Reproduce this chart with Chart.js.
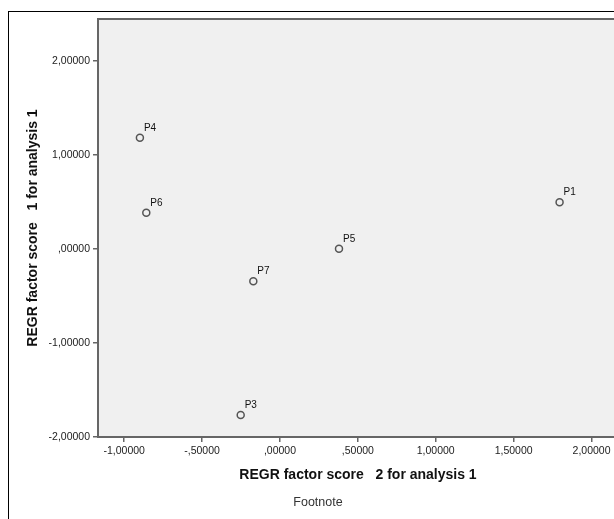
<!DOCTYPE html>
<html lang="en">
<head>
    <meta charset="UTF-8">
    <title>REGR factor scores</title>
    <script src="https://cdn.jsdelivr.net/npm/chart.js"></script>
    <style>
        html, body { margin: 0; padding: 0; background: #fff; overflow: hidden; }
        .wrap { width: 640px; height: 519px; position: relative; }
    </style>
</head>
<body>
    <div class="wrap"><canvas id="myChart"></canvas></div>

    <script>
        // factor scores per case
        const caseLabels = ['P1', 'P3', 'P4', 'P5', 'P6', 'P7'];
        const score2 = [1.795, -0.252, -0.899, 0.379, -0.858, -0.171];
        const score1 = [0.497, -1.766, 1.184, 0.003, 0.386, -0.344];

        const xTicks = [-1, -0.5, 0, 0.5, 1, 1.5, 2];
        const yTicks = [-2, -1, 0, 1, 2];

        // SPSS-like number format: comma decimal, no leading zero
        const fmt = (v) => {
            let s = Math.abs(v).toFixed(5).replace('.', ',');
            if (s.startsWith('0')) s = s.slice(1);
            return (v < 0 ? '-' : '') + s;
        };

        const pointLabels = {
            id: 'pointLabels',
            afterDatasetsDraw(chart) {
                const ctx = chart.ctx;
                const meta = chart.getDatasetMeta(0);
                ctx.save();
                ctx.font = '10px Arial, "Liberation Sans"';
                ctx.fillStyle = '#111';
                ctx.textBaseline = 'alphabetic';
                meta.data.forEach((el, i) => {
                    ctx.fillText(caseLabels[i], el.x + 4, el.y - 7);
                });
                ctx.restore();
            }
        };

        const frame = {
            id: 'frame',
            beforeDraw(chart) {
                const {ctx, chartArea: a} = chart;
                ctx.save();
                // outer border
                ctx.strokeStyle = '#000';
                ctx.lineWidth = 1;
                ctx.strokeRect(8.5, 11.5, 700, 600);
                // plot background
                ctx.fillStyle = '#f0f0f0';
                ctx.fillRect(a.left, a.top, a.right - a.left, a.bottom - a.top);
                ctx.restore();
            },
            afterDraw(chart) {
                const {ctx, chartArea: a} = chart;
                ctx.save();
                ctx.strokeStyle = '#666';
                ctx.lineWidth = 2;
                ctx.strokeRect(a.left, a.top, a.right - a.left, a.bottom - a.top);
                ctx.font = '12.5px Arial, "Liberation Sans"';
                ctx.fillStyle = '#333';
                ctx.textAlign = 'center';
                ctx.textBaseline = 'middle';
                ctx.fillText('Footnote', 318, 503);
                ctx.restore();
            }
        };

        const ctx = document.getElementById('myChart').getContext('2d');
        new Chart(ctx, {
            type: 'scatter',
            data: {
                datasets: [{
                    data: score2.map((x, i) => ({x: x, y: score1[i]})),
                    pointRadius: 3.5,
                    pointHoverRadius: 3.5,
                    pointBorderWidth: 1.5,
                    borderColor: '#555',
                    backgroundColor: 'rgba(0,0,0,0)'
                }]
            },
            options: {
                responsive: true,
                maintainAspectRatio: false,
                animation: false,
                layout: { padding: { left: 25, top: 19, right: 22, bottom: 35 } },
                plugins: { legend: { display: false }, tooltip: { enabled: false } },
                scales: {
                    x: {
                        type: 'linear',
                        min: -1.168,
                        max: 2.17,
                        afterBuildTicks: (s) => { s.ticks = xTicks.map(v => ({value: v})); },
                        afterFit: (s) => { s.height = 47; },
                        grid: { drawOnChartArea: false, drawTicks: true, tickLength: 5, color: '#666', lineWidth: 1.5 },
                        border: { display: false },
                        ticks: {
                            padding: 3,
                            maxRotation: 0,
                            color: '#222',
                            font: { family: 'Arial, "Liberation Sans"', size: 10.5 },
                            callback: (v) => fmt(v)
                        },
                        title: {
                            display: true,
                            text: 'REGR factor score   2 for analysis 1',
                            color: '#111',
                            padding: 0,
                            font: { family: 'Arial, "Liberation Sans"', size: 14, weight: 'bold' }
                        }
                    },
                    y: {
                        type: 'linear',
                        min: -2,
                        max: 2.447,
                        afterBuildTicks: (s) => { s.ticks = yTicks.map(v => ({value: v})); },
                        afterFit: (s) => { s.width = 73; },
                        grid: { drawOnChartArea: false, drawTicks: true, tickLength: 5, color: '#666', lineWidth: 1.5 },
                        border: { display: false },
                        ticks: {
                            padding: 3,
                            color: '#222',
                            font: { family: 'Arial, "Liberation Sans"', size: 10.5 },
                            callback: (v) => fmt(v)
                        },
                        title: {
                            display: true,
                            text: 'REGR factor score   1 for analysis 1',
                            color: '#111',
                            padding: 0,
                            font: { family: 'Arial, "Liberation Sans"', size: 14, weight: 'bold' }
                        }
                    }
                }
            },
            plugins: [frame, pointLabels]
        });
    </script>
</body>
</html>
